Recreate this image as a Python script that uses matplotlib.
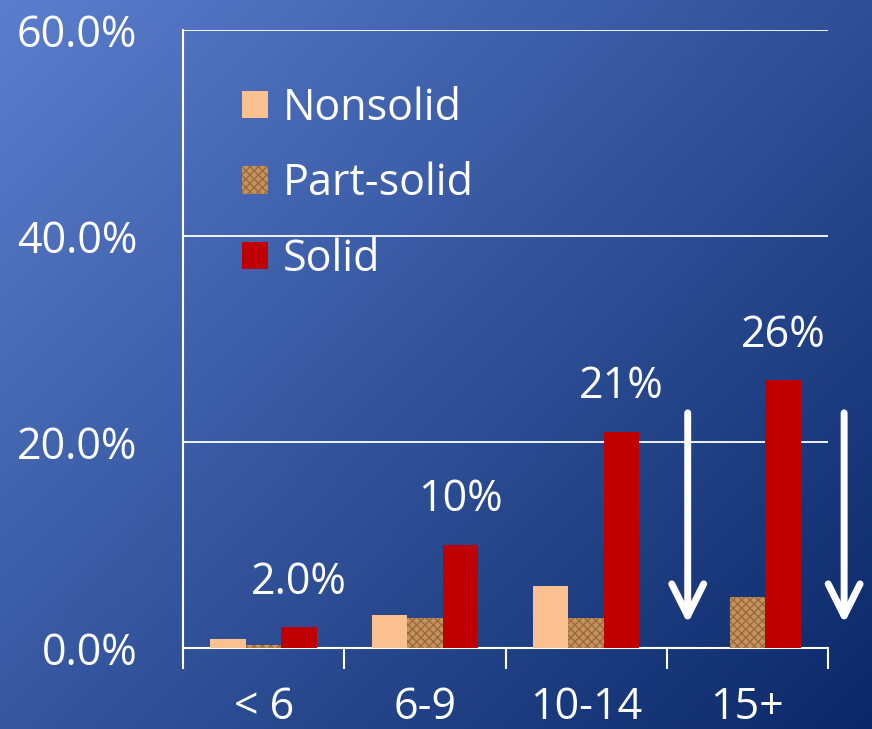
import numpy as np
import matplotlib
matplotlib.use("Agg")
import matplotlib.pyplot as plt
from matplotlib.patches import Patch

categories = ["< 6", "6-9", "10-14", "15+"]
nonsolid = [0.009, 0.032, 0.060, 0.0]
part_solid = [0.003, 0.029, 0.029, 0.050]
solid = [0.020, 0.100, 0.210, 0.260]
solid_labels = ["2.0%", "10%", "21%", "26%"]
yticks = [0.0, 0.2, 0.4, 0.6]
ytick_labels = ["0.0%", "20.0%", "40.0%", "60.0%"]

plt.rcParams['font.family'] = ['Open Sans', 'DejaVu Sans']
FS = 31

fig = plt.figure(figsize=(8.72, 7.29), dpi=100)

# gradient background
bg = fig.add_axes([0, 0, 1, 1], zorder=-10)
h, w = 300, 360
yy, xx = np.mgrid[0:1:h*1j, 0:1:w*1j]
t = np.clip(0.55 * xx + 0.45 * yy, 0, 1)
c0 = np.array([0x5b, 0x7e, 0xce]) / 255
c1 = np.array([0x0a, 0x28, 0x68]) / 255
img = c0[None, None, :] * (1 - t[..., None]) + c1[None, None, :] * t[..., None]
bg.imshow(img, aspect='auto', extent=[0, 1, 0, 1], origin='upper')
bg.axis('off')

ax = fig.add_axes([183/872, 1 - 648/729, (828-183)/872, (648-30)/729])
ax.patch.set_alpha(0)

x = np.arange(len(categories))
bw = 0.22
ax.bar(x - bw, nonsolid, bw, color='#fac090', label='Nonsolid', zorder=3)
ax.bar(x, part_solid, bw, color='#c4935f', hatch='xxxx', edgecolor='#9a6a3a',
       linewidth=0, label='Part-solid', zorder=3)
ax.bar(x + bw, solid, bw, color='#c00000', label='Solid', zorder=3)

for xi, v, lab in zip(x, solid, solid_labels):
    ax.text(xi + bw, v + 0.022, lab, ha='center', va='bottom', color='white', fontsize=FS)

ax.set_xlim(-0.5, 3.5)
ax.set_ylim(0, 0.6)
ax.set_yticks(yticks)
ax.set_yticklabels(ytick_labels)
ax.yaxis.grid(True, color='white', linewidth=1.3, zorder=0)
ax.set_axisbelow(True)
ax.tick_params(axis='y', length=0, pad=33, labelcolor='white', labelsize=FS)

ax.set_xticks(np.arange(-0.5, 4.0, 1.0))
ax.set_xticklabels([])
ax.set_xticks(x, minor=True)
ax.set_xticklabels(categories, minor=True)
ax.tick_params(axis='x', which='major', length=15, width=1.5, color='white', direction='out')
ax.tick_params(axis='x', which='minor', length=0, pad=27, labelcolor='white', labelsize=FS)

for s in ['top', 'right']:
    ax.spines[s].set_visible(False)
for s in ['left', 'bottom']:
    ax.spines[s].set_color('white')
    ax.spines[s].set_linewidth(1.5)

# arrows
for ax_x in [2.63, 3.6]:
    ax.annotate('', xy=(ax_x, 0.021), xytext=(ax_x, 0.231),
                arrowprops=dict(arrowstyle='->,head_length=2.3,head_width=1.15',
                                color='white', lw=5, capstyle='round', joinstyle='round'),
                annotation_clip=False, zorder=5)

handles = [Patch(facecolor='#fac090', label='Nonsolid'),
           Patch(facecolor='#c4935f', hatch='xxxx', edgecolor='#9a6a3a', linewidth=0, label='Part-solid'),
           Patch(facecolor='#c00000', label='Solid')]
leg = ax.legend(handles=handles, loc='upper left', bbox_to_anchor=(0.065, 0.937),
                frameon=False, fontsize=FS, handlelength=0.6, handleheight=0.6,
                handletextpad=0.35, labelspacing=0.72, labelcolor='white',
                borderaxespad=0.0)

fig.savefig('out.png', dpi=100)
